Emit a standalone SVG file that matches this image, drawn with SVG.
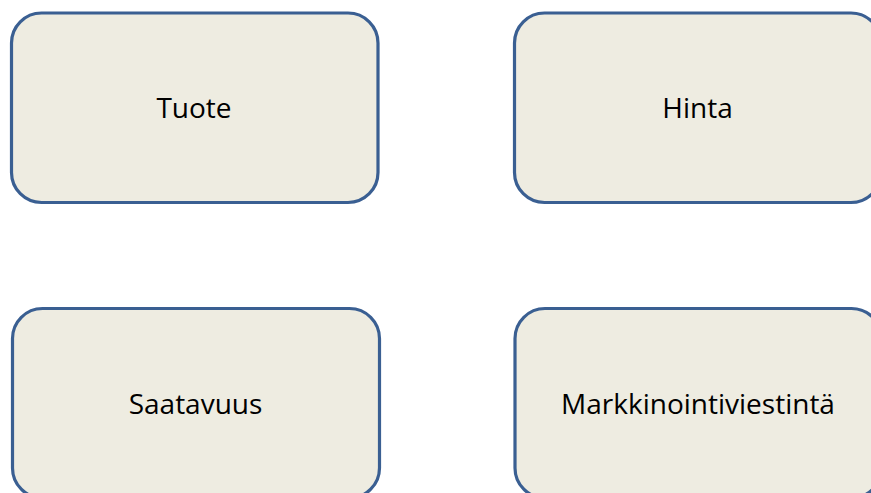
<svg xmlns="http://www.w3.org/2000/svg" width="871" height="493" viewBox="0 0 871 493">
<style>
.box{fill:#EEECE1;stroke:#3A5F92;stroke-width:3.2}
.lbl{font-family:"Open Sans","Liberation Sans",sans-serif;font-size:28px;fill:#000;text-anchor:middle}
</style>
<rect width="871" height="493" fill="#fff"/>
<g id="tuote"><rect class="box" x="11.5" y="13" width="366.5" height="189.5" rx="30" ry="30"/><text class="lbl" x="194" y="118">Tuote</text></g>
<g id="hinta"><rect class="box" x="514.5" y="13" width="366.5" height="189.5" rx="30" ry="30"/><text class="lbl" x="697.5" y="118">Hinta</text></g>
<g id="saatavuus"><rect class="box" x="12.5" y="308.5" width="367" height="189.5" rx="30" ry="30"/><text class="lbl" x="195.5" y="414">Saatavuus</text></g>
<g id="markkinointiviestinta"><rect class="box" x="515" y="308.5" width="366.5" height="189.5" rx="30" ry="30"/><text class="lbl" x="698" y="414">Markkinointiviestintä</text></g>
<g id="connectors"/>
</svg>
